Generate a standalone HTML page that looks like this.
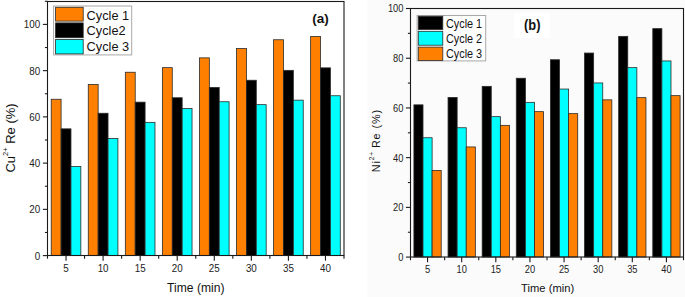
<!DOCTYPE html><html><head><meta charset="utf-8"><style>
html,body{margin:0;padding:0;background:#fff;width:685px;height:297px;overflow:hidden}
svg{display:block;font-family:"Liberation Sans", sans-serif}
</style></head><body>
<svg width="685" height="297" viewBox="0 0 685 297">
<rect x="0" y="0" width="685" height="297" fill="#ffffff"/>
<rect x="367" y="0" width="318" height="297" fill="#fbfbfb"/>
<rect x="292" y="6" width="50" height="24" fill="#ffffff"/>
<rect x="514" y="13" width="36" height="25" fill="#ffffff"/>
<rect x="51.21" y="99.25" width="9.88" height="156.25" fill="#ff8000" stroke="#2a2a2a" stroke-width="0.8"/>
<rect x="61.09" y="128.85" width="9.88" height="126.65" fill="#000000" stroke="#2a2a2a" stroke-width="0.8"/>
<rect x="70.97" y="166.55" width="9.88" height="88.95" fill="#00ffff" stroke="#2a2a2a" stroke-width="0.8"/>
<rect x="88.27" y="84.55" width="9.88" height="170.95" fill="#ff8000" stroke="#2a2a2a" stroke-width="0.8"/>
<rect x="98.15" y="113.25" width="9.88" height="142.25" fill="#000000" stroke="#2a2a2a" stroke-width="0.8"/>
<rect x="108.04" y="138.55" width="9.88" height="116.95" fill="#00ffff" stroke="#2a2a2a" stroke-width="0.8"/>
<rect x="125.33" y="72.25" width="9.88" height="183.25" fill="#ff8000" stroke="#2a2a2a" stroke-width="0.8"/>
<rect x="135.21" y="102.15" width="9.88" height="153.35" fill="#000000" stroke="#2a2a2a" stroke-width="0.8"/>
<rect x="145.10" y="122.35" width="9.88" height="133.15" fill="#00ffff" stroke="#2a2a2a" stroke-width="0.8"/>
<rect x="162.39" y="67.65" width="9.88" height="187.85" fill="#ff8000" stroke="#2a2a2a" stroke-width="0.8"/>
<rect x="172.28" y="97.75" width="9.88" height="157.75" fill="#000000" stroke="#2a2a2a" stroke-width="0.8"/>
<rect x="182.16" y="108.45" width="9.88" height="147.05" fill="#00ffff" stroke="#2a2a2a" stroke-width="0.8"/>
<rect x="199.46" y="57.85" width="9.88" height="197.65" fill="#ff8000" stroke="#2a2a2a" stroke-width="0.8"/>
<rect x="209.34" y="87.45" width="9.88" height="168.05" fill="#000000" stroke="#2a2a2a" stroke-width="0.8"/>
<rect x="219.22" y="101.75" width="9.88" height="153.75" fill="#00ffff" stroke="#2a2a2a" stroke-width="0.8"/>
<rect x="236.52" y="48.55" width="9.88" height="206.95" fill="#ff8000" stroke="#2a2a2a" stroke-width="0.8"/>
<rect x="246.40" y="80.25" width="9.88" height="175.25" fill="#000000" stroke="#2a2a2a" stroke-width="0.8"/>
<rect x="256.29" y="104.65" width="9.88" height="150.85" fill="#00ffff" stroke="#2a2a2a" stroke-width="0.8"/>
<rect x="273.58" y="39.75" width="9.88" height="215.75" fill="#ff8000" stroke="#2a2a2a" stroke-width="0.8"/>
<rect x="283.46" y="70.35" width="9.88" height="185.15" fill="#000000" stroke="#2a2a2a" stroke-width="0.8"/>
<rect x="293.35" y="100.15" width="9.88" height="155.35" fill="#00ffff" stroke="#2a2a2a" stroke-width="0.8"/>
<rect x="310.64" y="36.55" width="9.88" height="218.95" fill="#ff8000" stroke="#2a2a2a" stroke-width="0.8"/>
<rect x="320.53" y="67.85" width="9.88" height="187.65" fill="#000000" stroke="#2a2a2a" stroke-width="0.8"/>
<rect x="330.41" y="95.75" width="9.88" height="159.75" fill="#00ffff" stroke="#2a2a2a" stroke-width="0.8"/>
<rect x="47.5" y="1.5" width="296.5" height="254.0" fill="none" stroke="#1a1a1a" stroke-width="1.1"/>
<line x1="42.90" y1="255.60" x2="47.5" y2="255.60" stroke="#1a1a1a" stroke-width="1.1"/>
<text transform="translate(40.2,259.50) scale(0.92,1)" text-anchor="end" font-size="10.7" fill="#222">0</text>
<line x1="44.90" y1="232.48" x2="47.5" y2="232.48" stroke="#1a1a1a" stroke-width="1.1"/>
<line x1="42.90" y1="209.36" x2="47.5" y2="209.36" stroke="#1a1a1a" stroke-width="1.1"/>
<text transform="translate(40.2,213.26) scale(0.92,1)" text-anchor="end" font-size="10.7" fill="#222">20</text>
<line x1="44.90" y1="186.24" x2="47.5" y2="186.24" stroke="#1a1a1a" stroke-width="1.1"/>
<line x1="42.90" y1="163.12" x2="47.5" y2="163.12" stroke="#1a1a1a" stroke-width="1.1"/>
<text transform="translate(40.2,167.02) scale(0.92,1)" text-anchor="end" font-size="10.7" fill="#222">40</text>
<line x1="44.90" y1="140.00" x2="47.5" y2="140.00" stroke="#1a1a1a" stroke-width="1.1"/>
<line x1="42.90" y1="116.88" x2="47.5" y2="116.88" stroke="#1a1a1a" stroke-width="1.1"/>
<text transform="translate(40.2,120.78) scale(0.92,1)" text-anchor="end" font-size="10.7" fill="#222">60</text>
<line x1="44.90" y1="93.76" x2="47.5" y2="93.76" stroke="#1a1a1a" stroke-width="1.1"/>
<line x1="42.90" y1="70.64" x2="47.5" y2="70.64" stroke="#1a1a1a" stroke-width="1.1"/>
<text transform="translate(40.2,74.54) scale(0.92,1)" text-anchor="end" font-size="10.7" fill="#222">80</text>
<line x1="44.90" y1="47.52" x2="47.5" y2="47.52" stroke="#1a1a1a" stroke-width="1.1"/>
<line x1="42.90" y1="24.40" x2="47.5" y2="24.40" stroke="#1a1a1a" stroke-width="1.1"/>
<text transform="translate(40.2,28.30) scale(0.92,1)" text-anchor="end" font-size="10.7" fill="#222">100</text>
<line x1="44.90" y1="1.28" x2="47.5" y2="1.28" stroke="#1a1a1a" stroke-width="1.1"/>
<line x1="47.50" y1="255.5" x2="47.50" y2="258.70" stroke="#1a1a1a" stroke-width="1.1"/>
<line x1="66.03" y1="255.5" x2="66.03" y2="260.70" stroke="#1a1a1a" stroke-width="1.1"/>
<text transform="translate(66.03,272.4) scale(0.92,1)" text-anchor="middle" font-size="10.7" fill="#222">5</text>
<line x1="84.56" y1="255.5" x2="84.56" y2="258.70" stroke="#1a1a1a" stroke-width="1.1"/>
<line x1="103.09" y1="255.5" x2="103.09" y2="260.70" stroke="#1a1a1a" stroke-width="1.1"/>
<text transform="translate(103.09,272.4) scale(0.92,1)" text-anchor="middle" font-size="10.7" fill="#222">10</text>
<line x1="121.62" y1="255.5" x2="121.62" y2="258.70" stroke="#1a1a1a" stroke-width="1.1"/>
<line x1="140.16" y1="255.5" x2="140.16" y2="260.70" stroke="#1a1a1a" stroke-width="1.1"/>
<text transform="translate(140.16,272.4) scale(0.92,1)" text-anchor="middle" font-size="10.7" fill="#222">15</text>
<line x1="158.69" y1="255.5" x2="158.69" y2="258.70" stroke="#1a1a1a" stroke-width="1.1"/>
<line x1="177.22" y1="255.5" x2="177.22" y2="260.70" stroke="#1a1a1a" stroke-width="1.1"/>
<text transform="translate(177.22,272.4) scale(0.92,1)" text-anchor="middle" font-size="10.7" fill="#222">20</text>
<line x1="195.75" y1="255.5" x2="195.75" y2="258.70" stroke="#1a1a1a" stroke-width="1.1"/>
<line x1="214.28" y1="255.5" x2="214.28" y2="260.70" stroke="#1a1a1a" stroke-width="1.1"/>
<text transform="translate(214.28,272.4) scale(0.92,1)" text-anchor="middle" font-size="10.7" fill="#222">25</text>
<line x1="232.81" y1="255.5" x2="232.81" y2="258.70" stroke="#1a1a1a" stroke-width="1.1"/>
<line x1="251.34" y1="255.5" x2="251.34" y2="260.70" stroke="#1a1a1a" stroke-width="1.1"/>
<text transform="translate(251.34,272.4) scale(0.92,1)" text-anchor="middle" font-size="10.7" fill="#222">30</text>
<line x1="269.88" y1="255.5" x2="269.88" y2="258.70" stroke="#1a1a1a" stroke-width="1.1"/>
<line x1="288.41" y1="255.5" x2="288.41" y2="260.70" stroke="#1a1a1a" stroke-width="1.1"/>
<text transform="translate(288.41,272.4) scale(0.92,1)" text-anchor="middle" font-size="10.7" fill="#222">35</text>
<line x1="306.94" y1="255.5" x2="306.94" y2="258.70" stroke="#1a1a1a" stroke-width="1.1"/>
<line x1="325.47" y1="255.5" x2="325.47" y2="260.70" stroke="#1a1a1a" stroke-width="1.1"/>
<text transform="translate(325.47,272.4) scale(0.92,1)" text-anchor="middle" font-size="10.7" fill="#222">40</text>
<line x1="344.00" y1="255.5" x2="344.00" y2="258.70" stroke="#1a1a1a" stroke-width="1.1"/>
<rect x="413.91" y="104.85" width="9.10" height="152.15" fill="#000000" stroke="#2a2a2a" stroke-width="0.8"/>
<rect x="423.01" y="137.75" width="9.10" height="119.25" fill="#00ffff" stroke="#2a2a2a" stroke-width="0.8"/>
<rect x="432.11" y="170.45" width="9.10" height="86.55" fill="#ff8000" stroke="#2a2a2a" stroke-width="0.8"/>
<rect x="448.04" y="97.45" width="9.10" height="159.55" fill="#000000" stroke="#2a2a2a" stroke-width="0.8"/>
<rect x="457.14" y="127.75" width="9.10" height="129.25" fill="#00ffff" stroke="#2a2a2a" stroke-width="0.8"/>
<rect x="466.24" y="146.95" width="9.10" height="110.05" fill="#ff8000" stroke="#2a2a2a" stroke-width="0.8"/>
<rect x="482.16" y="86.35" width="9.10" height="170.65" fill="#000000" stroke="#2a2a2a" stroke-width="0.8"/>
<rect x="491.26" y="116.65" width="9.10" height="140.35" fill="#00ffff" stroke="#2a2a2a" stroke-width="0.8"/>
<rect x="500.36" y="125.35" width="9.10" height="131.65" fill="#ff8000" stroke="#2a2a2a" stroke-width="0.8"/>
<rect x="516.29" y="78.25" width="9.10" height="178.75" fill="#000000" stroke="#2a2a2a" stroke-width="0.8"/>
<rect x="525.39" y="102.35" width="9.10" height="154.65" fill="#00ffff" stroke="#2a2a2a" stroke-width="0.8"/>
<rect x="534.49" y="111.65" width="9.10" height="145.35" fill="#ff8000" stroke="#2a2a2a" stroke-width="0.8"/>
<rect x="550.41" y="59.75" width="9.10" height="197.25" fill="#000000" stroke="#2a2a2a" stroke-width="0.8"/>
<rect x="559.51" y="89.05" width="9.10" height="167.95" fill="#00ffff" stroke="#2a2a2a" stroke-width="0.8"/>
<rect x="568.61" y="113.65" width="9.10" height="143.35" fill="#ff8000" stroke="#2a2a2a" stroke-width="0.8"/>
<rect x="584.54" y="53.05" width="9.10" height="203.95" fill="#000000" stroke="#2a2a2a" stroke-width="0.8"/>
<rect x="593.64" y="82.95" width="9.10" height="174.05" fill="#00ffff" stroke="#2a2a2a" stroke-width="0.8"/>
<rect x="602.74" y="99.85" width="9.10" height="157.15" fill="#ff8000" stroke="#2a2a2a" stroke-width="0.8"/>
<rect x="618.66" y="36.35" width="9.10" height="220.65" fill="#000000" stroke="#2a2a2a" stroke-width="0.8"/>
<rect x="627.76" y="67.65" width="9.10" height="189.35" fill="#00ffff" stroke="#2a2a2a" stroke-width="0.8"/>
<rect x="636.86" y="97.65" width="9.10" height="159.35" fill="#ff8000" stroke="#2a2a2a" stroke-width="0.8"/>
<rect x="652.79" y="28.65" width="9.10" height="228.35" fill="#000000" stroke="#2a2a2a" stroke-width="0.8"/>
<rect x="661.89" y="60.95" width="9.10" height="196.05" fill="#00ffff" stroke="#2a2a2a" stroke-width="0.8"/>
<rect x="670.99" y="95.65" width="9.10" height="161.35" fill="#ff8000" stroke="#2a2a2a" stroke-width="0.8"/>
<rect x="410.5" y="8.5" width="273.0" height="248.5" fill="none" stroke="#1a1a1a" stroke-width="1.1"/>
<line x1="405.90" y1="257.10" x2="410.5" y2="257.10" stroke="#1a1a1a" stroke-width="1.1"/>
<text transform="translate(403.4,261.00) scale(0.87,1)" text-anchor="end" font-size="10.7" fill="#222">0</text>
<line x1="407.90" y1="232.24" x2="410.5" y2="232.24" stroke="#1a1a1a" stroke-width="1.1"/>
<line x1="405.90" y1="207.38" x2="410.5" y2="207.38" stroke="#1a1a1a" stroke-width="1.1"/>
<text transform="translate(403.4,211.28) scale(0.87,1)" text-anchor="end" font-size="10.7" fill="#222">20</text>
<line x1="407.90" y1="182.52" x2="410.5" y2="182.52" stroke="#1a1a1a" stroke-width="1.1"/>
<line x1="405.90" y1="157.66" x2="410.5" y2="157.66" stroke="#1a1a1a" stroke-width="1.1"/>
<text transform="translate(403.4,161.56) scale(0.87,1)" text-anchor="end" font-size="10.7" fill="#222">40</text>
<line x1="407.90" y1="132.80" x2="410.5" y2="132.80" stroke="#1a1a1a" stroke-width="1.1"/>
<line x1="405.90" y1="107.94" x2="410.5" y2="107.94" stroke="#1a1a1a" stroke-width="1.1"/>
<text transform="translate(403.4,111.84) scale(0.87,1)" text-anchor="end" font-size="10.7" fill="#222">60</text>
<line x1="407.90" y1="83.08" x2="410.5" y2="83.08" stroke="#1a1a1a" stroke-width="1.1"/>
<line x1="405.90" y1="58.22" x2="410.5" y2="58.22" stroke="#1a1a1a" stroke-width="1.1"/>
<text transform="translate(403.4,62.12) scale(0.87,1)" text-anchor="end" font-size="10.7" fill="#222">80</text>
<line x1="407.90" y1="33.36" x2="410.5" y2="33.36" stroke="#1a1a1a" stroke-width="1.1"/>
<line x1="405.90" y1="8.50" x2="410.5" y2="8.50" stroke="#1a1a1a" stroke-width="1.1"/>
<text transform="translate(403.4,12.40) scale(0.87,1)" text-anchor="end" font-size="10.7" fill="#222">100</text>
<line x1="410.50" y1="257.0" x2="410.50" y2="260.20" stroke="#1a1a1a" stroke-width="1.1"/>
<line x1="427.56" y1="257.0" x2="427.56" y2="262.20" stroke="#1a1a1a" stroke-width="1.1"/>
<text transform="translate(427.56,273.0) scale(0.87,1)" text-anchor="middle" font-size="10.7" fill="#222">5</text>
<line x1="444.62" y1="257.0" x2="444.62" y2="260.20" stroke="#1a1a1a" stroke-width="1.1"/>
<line x1="461.69" y1="257.0" x2="461.69" y2="262.20" stroke="#1a1a1a" stroke-width="1.1"/>
<text transform="translate(461.69,273.0) scale(0.87,1)" text-anchor="middle" font-size="10.7" fill="#222">10</text>
<line x1="478.75" y1="257.0" x2="478.75" y2="260.20" stroke="#1a1a1a" stroke-width="1.1"/>
<line x1="495.81" y1="257.0" x2="495.81" y2="262.20" stroke="#1a1a1a" stroke-width="1.1"/>
<text transform="translate(495.81,273.0) scale(0.87,1)" text-anchor="middle" font-size="10.7" fill="#222">15</text>
<line x1="512.88" y1="257.0" x2="512.88" y2="260.20" stroke="#1a1a1a" stroke-width="1.1"/>
<line x1="529.94" y1="257.0" x2="529.94" y2="262.20" stroke="#1a1a1a" stroke-width="1.1"/>
<text transform="translate(529.94,273.0) scale(0.87,1)" text-anchor="middle" font-size="10.7" fill="#222">20</text>
<line x1="547.00" y1="257.0" x2="547.00" y2="260.20" stroke="#1a1a1a" stroke-width="1.1"/>
<line x1="564.06" y1="257.0" x2="564.06" y2="262.20" stroke="#1a1a1a" stroke-width="1.1"/>
<text transform="translate(564.06,273.0) scale(0.87,1)" text-anchor="middle" font-size="10.7" fill="#222">25</text>
<line x1="581.12" y1="257.0" x2="581.12" y2="260.20" stroke="#1a1a1a" stroke-width="1.1"/>
<line x1="598.19" y1="257.0" x2="598.19" y2="262.20" stroke="#1a1a1a" stroke-width="1.1"/>
<text transform="translate(598.19,273.0) scale(0.87,1)" text-anchor="middle" font-size="10.7" fill="#222">30</text>
<line x1="615.25" y1="257.0" x2="615.25" y2="260.20" stroke="#1a1a1a" stroke-width="1.1"/>
<line x1="632.31" y1="257.0" x2="632.31" y2="262.20" stroke="#1a1a1a" stroke-width="1.1"/>
<text transform="translate(632.31,273.0) scale(0.87,1)" text-anchor="middle" font-size="10.7" fill="#222">35</text>
<line x1="649.38" y1="257.0" x2="649.38" y2="260.20" stroke="#1a1a1a" stroke-width="1.1"/>
<line x1="666.44" y1="257.0" x2="666.44" y2="262.20" stroke="#1a1a1a" stroke-width="1.1"/>
<text transform="translate(666.44,273.0) scale(0.87,1)" text-anchor="middle" font-size="10.7" fill="#222">40</text>
<line x1="683.50" y1="257.0" x2="683.50" y2="260.20" stroke="#1a1a1a" stroke-width="1.1"/>
<text x="312.2" y="22.8" font-size="13.5" font-weight="bold" fill="#111">(a)</text>
<text transform="translate(524.0,29.8) scale(0.92,1)" font-size="14" font-weight="bold" fill="#111">(b)</text>
<rect x="53.6" y="6.0" width="78.1" height="48.9" fill="#fff" stroke="#a8a8a8" stroke-width="1"/>
<rect x="55.6" y="7.3" width="27.6" height="13.8" fill="#ff8000" stroke="#2a2a2a" stroke-width="0.8"/>
<text transform="translate(86.6,19.50) scale(0.945,1)" font-size="13.5" fill="#111">Cycle 1</text>
<rect x="55.6" y="22.9" width="27.6" height="14.800000000000004" fill="#000000" stroke="#2a2a2a" stroke-width="0.8"/>
<text transform="translate(86.6,35.40) scale(0.945,1)" font-size="13.5" fill="#111">Cycle2</text>
<rect x="55.6" y="39.4" width="27.6" height="14.5" fill="#00ffff" stroke="#2a2a2a" stroke-width="0.8"/>
<text transform="translate(86.6,51.30) scale(0.945,1)" font-size="13.5" fill="#111">Cycle 3</text>
<rect x="417.1" y="15.5" width="68.59999999999997" height="45.4" fill="#fff" stroke="#a8a8a8" stroke-width="1"/>
<rect x="418.3" y="16.3" width="24.5" height="13.2" fill="#000000" stroke="#2a2a2a" stroke-width="0.8"/>
<text transform="translate(446.0,27.60) scale(0.875,1)" font-size="12.4" fill="#111">Cycle 1</text>
<rect x="418.3" y="31.3" width="24.5" height="13.900000000000002" fill="#00ffff" stroke="#2a2a2a" stroke-width="0.8"/>
<text transform="translate(446.0,42.90) scale(0.875,1)" font-size="12.4" fill="#111">Cycle 2</text>
<rect x="418.3" y="47.1" width="24.5" height="13.299999999999997" fill="#ff8000" stroke="#2a2a2a" stroke-width="0.8"/>
<text transform="translate(446.0,58.20) scale(0.875,1)" font-size="12.4" fill="#111">Cycle 3</text>
<text transform="translate(195.8,292.3) scale(0.97,1)" text-anchor="middle" font-size="12.5" fill="#111">Time (min)</text>
<text transform="translate(547.6,292.4) scale(0.95,1)" text-anchor="middle" font-size="11.8" fill="#111">Time (min)</text>
<text transform="translate(15.2,172.6) rotate(-90)" font-size="13" fill="#111">Cu<tspan font-size="7.5" dy="-7.4">2+</tspan><tspan dy="7.4"> Re (%)</tspan></text>
<text transform="translate(379.6,172.2) rotate(-90)" font-size="10.8" letter-spacing="0.9" fill="#111">Ni<tspan font-size="6.5" dy="-5.4">2+</tspan><tspan dy="5.4" dx="-1"> Re (%)</tspan></text>
</svg></body></html>
